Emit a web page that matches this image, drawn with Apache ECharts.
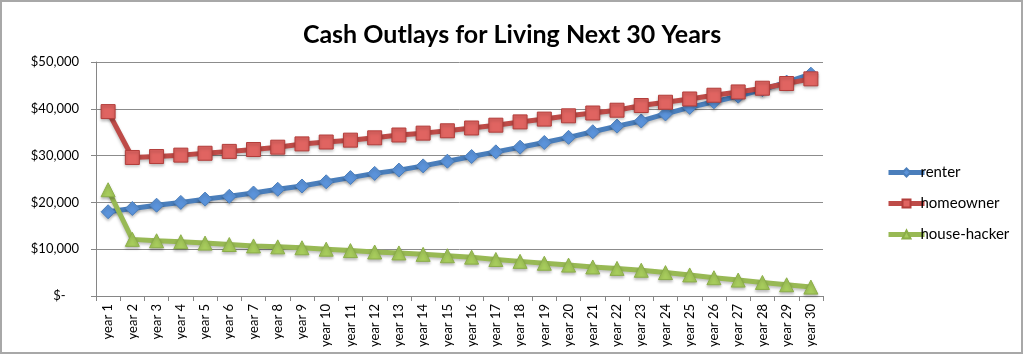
<!DOCTYPE html>
<html>
<head>
<meta charset="utf-8">
<script src="https://cdn.jsdelivr.net/npm/echarts@6/dist/echarts.min.js"></script>
<style>html,body{margin:0;padding:0;background:#fff}#c{width:1024px;height:356px}</style>
</head>
<body>
<div id="c"></div>
<script>
var categories = [];
var yearNums = [1,2,3,4,5,6,7,8,9,10,11,12,13,14,15,16,17,18,19,20,21,22,23,24,25,26,27,28,29,30];
yearNums.forEach(function(n){ categories.push('year ' + n); });

var renter = [18000,18700,19400,20000,20700,21300,22000,22800,23500,24400,25300,26200,26900,27800,28800,29800,30800,31800,32800,33900,35100,36300,37400,38900,40300,41500,42700,44100,45700,47400];
var homeowner = [39400,29600,29800,30100,30500,30900,31300,31800,32500,32900,33300,33800,34400,34800,35300,35900,36500,37200,37800,38500,39100,39700,40700,41400,42100,42900,43600,44400,45400,46400];
var houseHacker = [22700,12100,11800,11600,11300,11000,10700,10500,10300,10000,9700,9400,9200,8900,8600,8300,7800,7400,7000,6600,6200,5900,5500,5000,4500,3900,3400,2900,2400,1900];

var yTicks = {min:0, max:50000, interval:10000};

function fmt(v){
  if (v === 0) return '$-    ';
  return '$' + v.toLocaleString('en-US');
}

var font = 'Lato, "Open Sans", sans-serif';
var chart = echarts.init(document.getElementById('c'), null, {renderer:'canvas'});
function lineSeries(name, data, color, markColor, borderColor, symbol, size){
  return {
    name: name, type: 'line', data: data,
    symbol: symbol, symbolSize: size,
    lineStyle: {color: color, width: 5, shadowColor:'rgba(0,0,0,0.25)', shadowBlur:3, shadowOffsetY:2},
    itemStyle: {color: markColor, borderColor: borderColor, borderWidth: 1, shadowColor:'rgba(0,0,0,0.25)', shadowBlur:3, shadowOffsetY:2},
    emphasis: {disabled: true},
    animation: false
  };
}
chart.setOption({
  animation: false,
  title: {
    text: 'Cash Outlays for Living Next 30 Years',
    left: 'center', top: 17,
    textStyle: {fontFamily: font, fontWeight: 'bold', fontSize: 25, color: '#000'}
  },
  graphic: [{type:'rect', shape:{x:1, y:1, width:1021, height:352}, style:{fill:'none', stroke:'#a8a8a8', lineWidth:2}, silent:true}],
  legend: {
    orient: 'vertical', left: 881, top: 160,
    itemWidth: 36, itemHeight: 10, itemGap: 16,
    lineStyle: {width: 5},
    textStyle: {fontFamily: font, fontSize: 15, color: '#000', padding:[0,0,0,-9]},
    data: ['renter','homeowner','house-hacker']
  },
  grid: {left: 96, right: 201, top: 62, bottom: 60, containLabel: false},
  xAxis: {
    type: 'category', data: categories, boundaryGap: true,
    axisLine: {lineStyle: {color: '#868686', width: 1}},
    axisTick: {show: true, alignWithLabel: false, length: 5, inside: false, lineStyle:{color:'#868686'}},
    axisLabel: {rotate: 90, interval: 0, fontFamily: font, fontSize: 13, color: '#000', margin: 8}
  },
  yAxis: {
    type: 'value', min: yTicks.min, max: yTicks.max, interval: yTicks.interval,
    axisLine: {show: true, lineStyle: {color: '#868686', width: 1}},
    axisTick: {show: true, length: 5, lineStyle:{color:'#868686'}},
    splitLine: {show: true, lineStyle: {color: '#8c8c8c', width: 1}},
    axisLabel: {formatter: fmt, fontFamily: font, fontSize: 13, color: '#000', margin: 17}
  },
  series: [
    lineSeries('renter', renter, '#4A7EBB', '#5B93DA', '#4A7EBB', 'diamond', 14),
    lineSeries('homeowner', homeowner, '#BE4B48', '#E06461', '#B23D3A', 'rect', 14),
    lineSeries('house-hacker', houseHacker, '#98B954', '#A7CC5C', '#8BAE48', 'triangle', 14)
  ]
});
</script>
</body>
</html>
